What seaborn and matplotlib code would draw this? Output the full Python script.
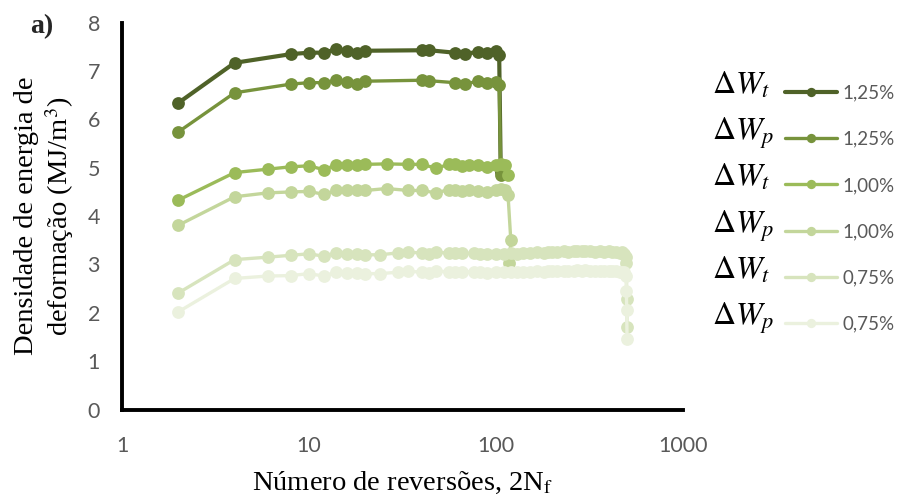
import matplotlib
matplotlib.use("Agg")
import matplotlib.pyplot as plt
import seaborn as sns
from matplotlib.lines import Line2D
from matplotlib.ticker import FixedLocator, FixedFormatter, NullLocator

# Number of reversals (2Nf) and strain-energy density (MJ/m^3) per series
wt125_x = [2, 4, 8, 10, 12, 14, 16, 18, 20, 40, 44, 60, 68, 80, 90, 100, 104, 106]
wt125_y = [6.34, 7.17, 7.35, 7.38, 7.38, 7.45, 7.41, 7.37, 7.42, 7.43, 7.43, 7.38,
           7.35, 7.40, 7.37, 7.42, 7.33, 4.92]

wp125_x = [2, 4, 8, 10, 12, 14, 16, 18, 20, 40, 44, 60, 68, 80, 90, 100, 104, 106]
wp125_y = [5.74, 6.55, 6.73, 6.76, 6.76, 6.81, 6.78, 6.73, 6.79, 6.81, 6.80, 6.76,
           6.73, 6.79, 6.75, 6.77, 6.71, 4.86]

wt100_x = [2, 4, 6, 8, 10, 12, 14, 16, 18, 20, 26, 34, 40, 48, 56, 60, 66, 72, 80,
           90, 100, 106, 112, 116]
wt100_y = [4.33, 4.90, 4.97, 5.02, 5.04, 4.96, 5.06, 5.06, 5.06, 5.07, 5.08, 5.07,
           5.07, 4.99, 5.07, 5.08, 5.04, 5.06, 5.05, 5.02, 5.06, 5.08, 5.05, 4.86]

wp100_x = [2, 4, 6, 8, 10, 12, 14, 16, 18, 20, 26, 34, 40, 48, 56, 60, 66, 72, 80,
           90, 100, 106, 112, 116, 120, 118]
wp100_y = [3.81, 4.40, 4.48, 4.50, 4.51, 4.45, 4.53, 4.53, 4.53, 4.53, 4.57, 4.53,
           4.53, 4.48, 4.55, 4.55, 4.52, 4.53, 4.52, 4.50, 4.53, 4.57, 4.55, 4.43,
           3.50, 3.03]

wt075_x = [2, 4, 6, 8, 10, 12, 14, 16, 18, 20, 24, 30, 34, 40, 44, 48, 56, 60, 66,
           76, 82, 90, 100, 110, 120, 130, 140, 152, 166, 180, 190, 200, 212, 230,
           244, 260, 271, 290, 300, 319, 340, 361, 380, 400, 417, 440, 460, 471,
           484, 494, 498, 500, 502]
wt075_y = [2.41, 3.10, 3.15, 3.19, 3.22, 3.17, 3.24, 3.22, 3.22, 3.20, 3.20, 3.24,
           3.25, 3.24, 3.22, 3.26, 3.23, 3.23, 3.23, 3.23, 3.22, 3.21, 3.22, 3.22,
           3.23, 3.22, 3.24, 3.23, 3.25, 3.24, 3.26, 3.25, 3.26, 3.27, 3.26, 3.27,
           3.28, 3.27, 3.28, 3.27, 3.26, 3.27, 3.26, 3.27, 3.25, 3.26, 3.24, 3.25,
           3.22, 3.15, 3.02, 2.29, 1.70]

wp075_x = [2, 4, 6, 8, 10, 12, 14, 16, 18, 20, 24, 30, 34, 40, 44, 48, 56, 60, 66,
           76, 82, 90, 100, 110, 120, 130, 140, 152, 166, 180, 190, 200, 212, 230,
           244, 260, 271, 290, 300, 319, 340, 361, 380, 400, 417, 440, 460, 471,
           484, 496, 498, 500, 502]
wp075_y = [2.02, 2.71, 2.76, 2.77, 2.81, 2.76, 2.84, 2.83, 2.83, 2.81, 2.81, 2.84,
           2.86, 2.84, 2.83, 2.87, 2.84, 2.84, 2.84, 2.85, 2.84, 2.83, 2.84, 2.84,
           2.85, 2.84, 2.85, 2.85, 2.86, 2.85, 2.86, 2.86, 2.87, 2.87, 2.86, 2.87,
           2.88, 2.87, 2.88, 2.87, 2.86, 2.87, 2.86, 2.87, 2.86, 2.86, 2.85, 2.85,
           2.84, 2.77, 2.46, 2.05, 1.46]

series_names = [r"$\Delta W_t$", r"$\Delta W_p$", r"$\Delta W_t$",
                r"$\Delta W_p$", r"$\Delta W_t$", r"$\Delta W_p$"]
series_strain = ["1,25%", "1,25%", "1,00%", "1,00%", "0,75%", "0,75%"]
series_colors = ["#4F6228", "#77933C", "#9BBB59", "#C3D69B", "#D7E4BD", "#EBF1DE"]
series_widths = [3.0, 2.4, 2.4, 2.4, 2.4, 2.4]

x_ticks = [1, 10, 100, 1000]
x_tick_labels = ["1", "10", "100", "1000"]
y_ticks = [0, 1, 2, 3, 4, 5, 6, 7, 8]
y_tick_labels = ["0", "1", "2", "3", "4", "5", "6", "7", "8"]

sns.set_style("white")
plt.rcParams["font.family"] = ["Lato", "DejaVu Sans"]
plt.rcParams["mathtext.fontset"] = "stix"

W, H = 906, 501
fig = plt.figure(figsize=(W / 100, H / 100), dpi=100)
fig.subplots_adjust(left=122 / W, right=683 / W, bottom=1 - 409.5 / H, top=1 - 22.7 / H)
ax = fig.add_subplot(111)

all_x = [wt125_x, wp125_x, wt100_x, wp100_x, wt075_x, wp075_x]
all_y = [wt125_y, wp125_y, wt100_y, wp100_y, wt075_y, wp075_y]

for xs, ys, c, lw in zip(all_x, all_y, series_colors, series_widths):
    sns.lineplot(x=xs, y=ys, ax=ax, color=c, linewidth=lw, marker="o",
                 markersize=9.2, markeredgewidth=0, sort=False, estimator=None,
                 legend=False)

ax.set_xscale("log")
ax.set_xlim(1, 1000)
ax.set_ylim(0, 8)
ax.xaxis.set_major_locator(FixedLocator(x_ticks))
ax.xaxis.set_major_formatter(FixedFormatter(x_tick_labels))
ax.xaxis.set_minor_locator(NullLocator())
ax.yaxis.set_major_locator(FixedLocator(y_ticks))
ax.yaxis.set_major_formatter(FixedFormatter(y_tick_labels))

for side in ("top", "right"):
    ax.spines[side].set_visible(False)
for side in ("left", "bottom"):
    ax.spines[side].set_color("black")
    ax.spines[side].set_linewidth(2.8)

ax.tick_params(axis="both", which="major", direction="inout", length=10, width=2.8,
               color="black", labelcolor="#595959", labelsize=15.5)
ax.tick_params(axis="y", pad=10.8)
ax.tick_params(axis="x", pad=14.0)

serif = ["Liberation Serif", "DejaVu Serif"]
ax.set_xlabel(r"Número de reversões, 2N$_{\mathrm{f}}$", fontfamily=serif,
              fontsize=20.5, color="black", labelpad=10)
ax.set_ylabel("Densidade de energia de\ndeformação (MJ/m$^{3}$)", fontfamily=serif,
              fontsize=20.5, color="black", linespacing=1.15)
ax.yaxis.label.set_verticalalignment("center")
ax.yaxis.set_label_coords(-77 / 561, 0.5)

fig.text(30 / W, 1 - 27 / H, "a)", fontfamily=serif, fontsize=20,
         fontweight="bold", va="center", ha="left")

handles = [Line2D([], [], color=c, linewidth=lw, marker="o", markersize=6.7,
                  markeredgewidth=0)
           for c, lw in zip(series_colors, series_widths)]
leg = ax.legend(handles, series_strain, loc="upper left",
                bbox_to_anchor=(785 / W, 1 - 84.5 / H), bbox_transform=fig.transFigure,
                frameon=False, borderpad=0, borderaxespad=0, handlelength=2.77,
                handletextpad=0.32, labelspacing=1.56,
                prop={"family": ["Lato", "DejaVu Sans"], "size": 13.5},
                labelcolor="#595959")
fig.canvas.draw()

for name, line in zip(series_names, leg.get_lines()):
    ax.annotate(name, xy=(0, 0.5), xycoords=line, xytext=(-49, -1.2),
                textcoords="offset points", ha="left", va="baseline",
                fontsize=23, color="black", zorder=10, annotation_clip=False)

fig.savefig("out.png", dpi=100)
